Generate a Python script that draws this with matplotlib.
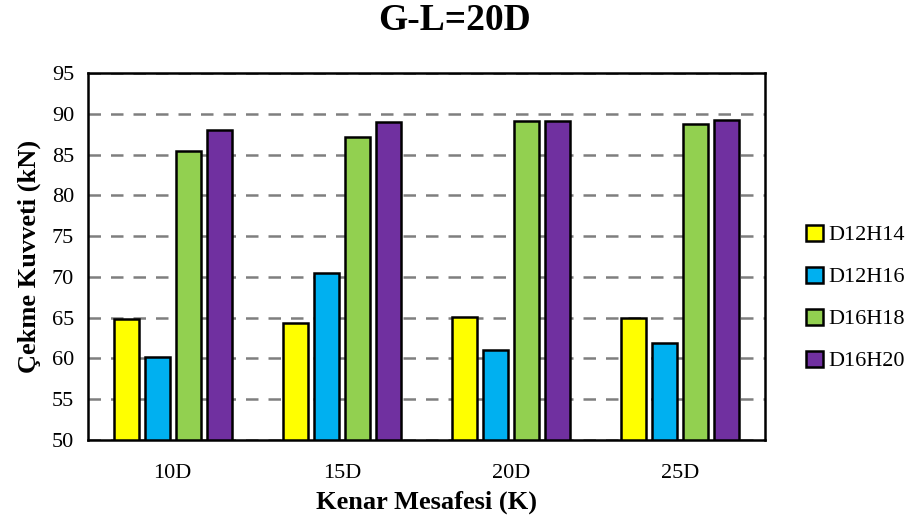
import numpy as np
import matplotlib.pyplot as plt

plt.rcParams['font.family'] = ['Liberation Serif', 'DejaVu Serif']

categories = ['10D', '15D', '20D', '25D']
series_names = ['D12H14', 'D12H16', 'D16H18', 'D16H20']
d12h14 = [64.8, 64.4, 65.1, 64.9]
d12h16 = [60.2, 70.5, 61.0, 61.9]
d16h18 = [85.4, 87.2, 89.1, 88.8]
d16h20 = [88.0, 89.0, 89.1, 89.2]
colors = ['#FFFF00', '#00B0F0', '#92D050', '#7030A0']

fig = plt.figure(figsize=(9.09, 5.23), dpi=100)
ax = fig.add_axes([88 / 909, 1 - 440 / 523, (765 - 88) / 909, (440 - 73) / 523])

x = np.arange(len(categories))
step = 0.183
width = 0.148
for i, (vals, name) in enumerate(zip([d12h14, d12h16, d16h18, d16h20], series_names)):
    ax.bar(x + (i - 1.5) * step, np.array(vals) - 50, width, bottom=50,
           color=colors[i], edgecolor='black', linewidth=1.8, label=name, zorder=3)

ax.set_xlim(-0.5, 3.5)
ax.set_ylim(50, 95)
ax.set_yticks(np.arange(50, 96, 5))
ax.set_xticks(x)
ax.set_xticklabels(categories)
ax.tick_params(axis='both', labelsize=16, length=0)
ax.tick_params(axis='x', pad=17)
ax.tick_params(axis='y', pad=10)
ax.yaxis.grid(True, linestyle=(0, (5, 4)), color='#7f7f7f', linewidth=1.8, zorder=0)
for s in ax.spines.values():
    s.set_linewidth(1.8)

ax.set_xlabel('Kenar Mesafesi (K)', fontsize=19, fontweight='bold', labelpad=6)
ax.set_ylabel('Çekme Kuvveti (kN)', fontsize=19, fontweight='bold', labelpad=8)
fig.text(0.5, 1 - 20 / 523, 'G-L=20D',
         ha='center', va='center', fontsize=27, fontweight='bold')

fig.legend(loc='center left', bbox_to_anchor=(797 / 909, 1 - 298 / 523), frameon=False,
           fontsize=16, labelspacing=0.95, handlelength=0.75, handleheight=0.75,
           handletextpad=0.25, borderaxespad=0)

fig.savefig('out.png', dpi=100)
